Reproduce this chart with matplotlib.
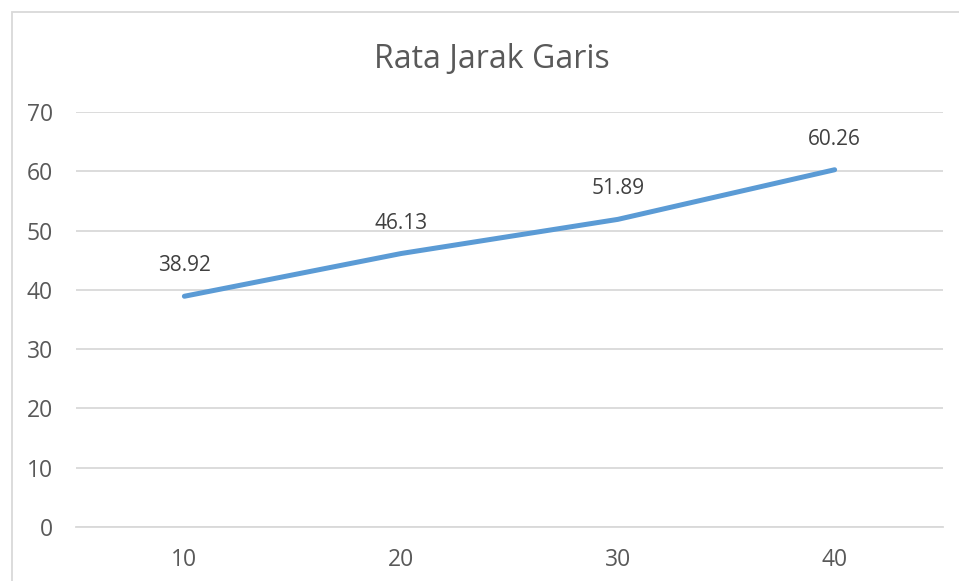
import matplotlib.pyplot as plt
from matplotlib.patches import Rectangle

categories = ["10", "20", "30", "40"]
values = [38.92, 46.13, 51.89, 60.26]
y_ticks = [0, 10, 20, 30, 40, 50, 60, 70]

W, H = 959, 581
fig = plt.figure(figsize=(W / 100, H / 100), dpi=100)
ax = fig.add_axes([76 / W, 1 - 527 / H, (943 - 76) / W, (527 - 112) / H])

font = ["Open Sans", "DejaVu Sans"]
txt_color = "#595959"
grid_color = "#d9d9d9"

x = list(range(len(categories)))
ax.plot(x, values, color="#5b9bd5", linewidth=3.6, solid_capstyle="round",
        solid_joinstyle="round", zorder=3)

for xi, v in zip(x, values):
    ax.annotate(f"{v:.2f}", (xi, v), xytext=(0, 18), textcoords="offset points",
                ha="center", va="baseline", fontsize=15, color="#404040", family=font)

ax.set_xlim(-0.5, len(categories) - 0.5)
ax.set_ylim(0, 70)
ax.set_yticks(y_ticks)
ax.set_xticks(x)
ax.set_xticklabels(categories)
ax.grid(axis="y", color=grid_color, linewidth=1.3)
ax.set_axisbelow(True)
for s in ["top", "right", "left"]:
    ax.spines[s].set_visible(False)
ax.spines["bottom"].set_color(grid_color)
ax.spines["bottom"].set_linewidth(1.3)
ax.tick_params(axis="both", length=0, labelcolor=txt_color, labelsize=16.5)
ax.tick_params(axis="y", pad=16.5)
ax.tick_params(axis="x", pad=15)
for lab in ax.get_xticklabels() + ax.get_yticklabels():
    lab.set_family(font)

fig.text(492 / W, 1 - 68 / H, "Rata Jarak Garis", ha="center", va="baseline",
         fontsize=23, color=txt_color, family=font)

# chart frame
fig.patches.append(Rectangle((12 / W, -0.1), 1.2, 1 - 12 / H + 0.1,
                             transform=fig.transFigure, fill=False,
                             edgecolor=grid_color, linewidth=1.3))

fig.savefig("out.png", dpi=100)
